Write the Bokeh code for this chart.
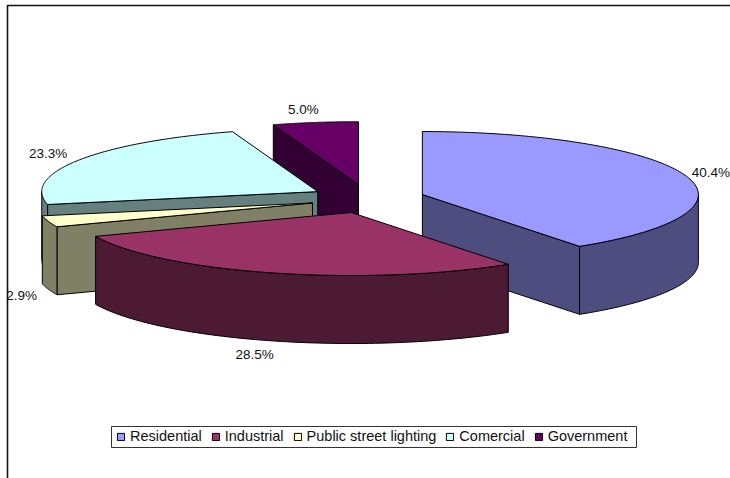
import numpy as np
from bokeh.plotting import figure
from bokeh.models import Legend, LegendItem, Range1d
from bokeh.core.properties import value
from bokeh.embed import file_html
from bokeh.resources import INLINE

# ---- chart data
categories = ["Residential", "Industrial", "Public street lighting", "Comercial", "Government"]
shares = [40.4, 28.5, 2.9, 23.3, 5.0]
share_labels = ["40.4%", "28.5%", "2.9%", "23.3%", "5.0%"]
top_colors = ["#9999FF", "#993366", "#FFFFCC", "#CCFFFF", "#660066"]
side_colors = ["#4D4D80", "#4D1A33", "#808066", "#668080", "#330033"]

# ---- layout of the projected, exploded 3-D pie (screen pixels)
W, H = 730, 478
CX, CY = 367.0, 198.3      # common centre
RX, RY = 276.0, 63.0       # ellipse radii
EX, EY = 57.5, 14.3        # explosion
DEPTH = 68.0               # extrusion
DRAW_ORDER = [4, 3, 2, 0, 1]
# label anchor relative to the slice's rim point at mid-angle
LABEL_NUDGE = {0: (6, -3), 1: (-18, 82), 2: (-27, 74), 3: (-31, -7), 4: (-12, -13)}

p = figure(width=W, height=H, output_backend="svg", toolbar_location=None,
           x_range=Range1d(0, W), y_range=Range1d(H, 0),
           x_axis_type=None, y_axis_type=None, min_border=0,
           outline_line_color=None, background_fill_color="white")
p.grid.visible = False

# chart-area frame: only its top and left edges fall inside the picture
p.line([7, 7, W], [H, 5, 5], line_color="#111111", line_width=1.6)

total = sum(shares)
cum = np.concatenate([[0], np.cumsum(shares)]) / total * 2 * np.pi
top_renderers = {}
mid_points = {}

def rim(ax, ay, t):
    return ax + RX * np.sin(t), ay - RY * np.cos(t)

for i in DRAW_ORDER:
    t0, t1 = cum[i], cum[i + 1]
    mid = (t0 + t1) / 2
    ax, ay = CX + EX * np.sin(mid), CY - EY * np.cos(mid)
    mid_points[i] = rim(ax, ay, mid)

    # cut faces that turn towards the viewer
    for t, normal in ((t0, t0 - np.pi / 2), (t1, t1 + np.pi / 2)):
        if -np.cos(normal) > 1e-6:
            rx, ry = rim(ax, ay, t)
            p.patch([ax, rx, rx, ax], [ay, ry, ry + DEPTH, ay + DEPTH],
                    fill_color=side_colors[i], line_color="black", line_width=1)

    # outer wall: the part of the arc on the front half
    lo, hi = max(t0, np.pi / 2), min(t1, 3 * np.pi / 2)
    if hi > lo:
        ts = np.linspace(lo, hi, 80)
        xs, ys = rim(ax, ay, ts)
        p.patch(np.r_[xs, xs[::-1]], np.r_[ys, ys[::-1] + DEPTH],
                fill_color=side_colors[i], line_color="black", line_width=1)

    # top face
    ts = np.linspace(t0, t1, 160)
    xs, ys = rim(ax, ay, ts)
    top_renderers[i] = p.patch(np.r_[ax, xs], np.r_[ay, ys],
                               fill_color=top_colors[i], line_color="black", line_width=1)

# percentage labels
for i, lab in enumerate(share_labels):
    mx, my = mid_points[i]
    dx, dy = LABEL_NUDGE[i]
    p.text([mx + dx], [my + dy], text=[lab], text_font=value("Liberation Sans"),
           text_font_size="13.5px", text_color="#111111",
           text_align="left" if i == 0 else "center", text_baseline="middle")

# legend frame
p.quad(left=[111], right=[636], top=[426], bottom=[447], fill_color="white",
       line_color="#333333", line_width=1)

legend = Legend(items=[LegendItem(label=c, renderers=[top_renderers[i]]) for i, c in enumerate(categories)],
                orientation="horizontal", location=(116, H - 444),
                glyph_width=9, glyph_height=9, label_standoff=5, spacing=9,
                padding=5, margin=0, label_height=12,
                label_text_font="Liberation Sans", label_text_font_size="14.5px",
                label_text_color="#111111", label_text_baseline="middle",
                border_line_color=None, background_fill_alpha=0)
p.add_layout(legend)

open("out.html", "w").write(file_html(p, INLINE))
